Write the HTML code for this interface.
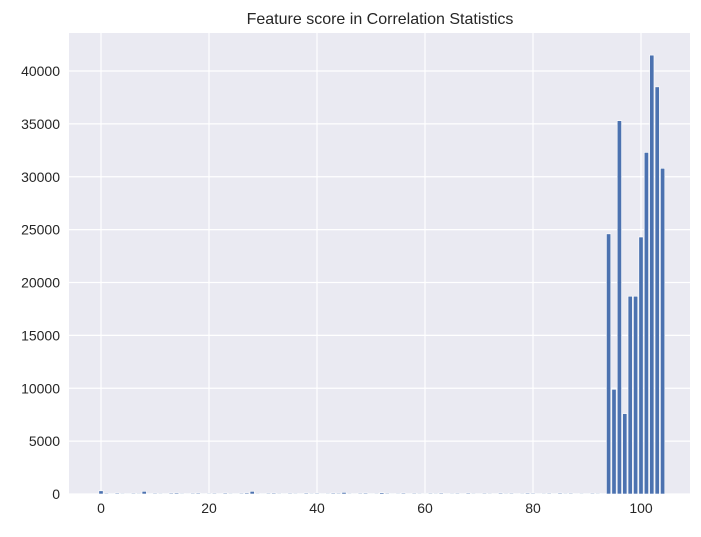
<!DOCTYPE html>
<html><head><meta charset="utf-8"><style>
body{margin:0;background:#fff;}
svg text{font-family:"Liberation Sans","DejaVu Sans",sans-serif;fill:#262626;}
</style></head><body>
<svg id="chart" width="701" height="532">
<text x="380" y="24" text-anchor="middle" font-size="16">Feature score in Correlation Statistics</text>
<rect x="69" y="33" width="621" height="461" fill="#eaeaf2"/>
<g id="grid"></g><g id="bars"></g><g id="xt"></g><g id="yt"></g>
</svg>
<script>
const scores = [300,80,60,90,70,60,80,70,250,60,80,70,60,90,100,70,60,80,90,60,70,80,60,90,70,60,80,100,250,70,60,80,90,70,60,80,70,60,90,70,80,60,70,90,80,150,70,60,80,90,60,70,120,80,60,70,90,60,80,70,60,80,70,90,60,70,80,60,90,70,60,80,70,60,90,70,80,60,70,90,80,60,70,80,60,90,70,80,60,70,60,80,70,60,
24600,9900,35300,7600,18700,18700,24300,32300,41500,38500,30800];
const xTicks = [0,20,40,60,80,100];
const yTicks = [0,5000,10000,15000,20000,25000,30000,35000,40000];
const ns="http://www.w3.org/2000/svg";
const xs = v => 101 + (v-0)*5.4;
const ys = v => 494 - v*423/40000;
function mk(tag,attrs,parent){const e=document.createElementNS(ns,tag);for(const k in attrs)e.setAttribute(k,attrs[k]);document.getElementById(parent).appendChild(e);return e;}
xTicks.forEach(t=>{
  const l=mk('line',{x1:xs(t),x2:xs(t),y1:33,y2:494,stroke:'#fff','stroke-width':1.2},'grid');
  
  
  const tx=mk('text',{x:xs(t),y:513,'text-anchor':'middle','font-size':14},'xt');
  tx.textContent=t;
  
  
});
yTicks.forEach(t=>{
  const l=mk('line',{x1:69,x2:690,y1:ys(t),y2:ys(t),stroke:'#fff','stroke-width':1.2},'grid');
  
  
  const tx=mk('text',{x:60,y:ys(t)+5,'text-anchor':'end','font-size':14},'yt');
  tx.textContent=t;
  
  
});
scores.forEach((v,i)=>{
  const w=0.8*5.4;
  const r=mk('rect',{x:xs(i)-w/2,y:ys(v),width:w,height:494-ys(v),fill:'#4c72b0',stroke:'#fff','stroke-width':0.6},'bars');
  
  
});
</script>
</body></html>
